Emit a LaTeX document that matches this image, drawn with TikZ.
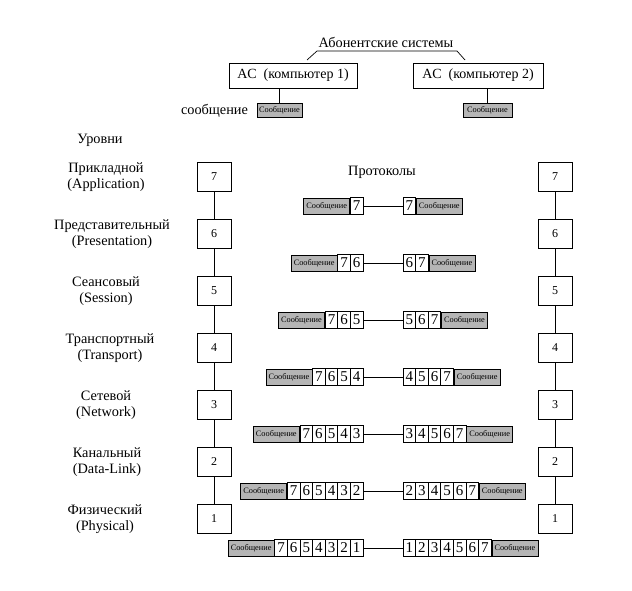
\documentclass[tikz,border=0pt]{standalone}
\usepackage{fontspec}
\setmainfont{Liberation Serif}
\usetikzlibrary{positioning}

\begin{document}
\begin{tikzpicture}[x=1pt,y=1pt,node distance=57pt,on grid,line width=0.7pt,
  txt/.style={font=\fontsize{14.3}{16}\selectfont,align=center},
  lvl/.style={draw,fill=white,minimum width=34pt,minimum height=29pt,inner sep=0pt,font=\fontsize{12}{14}\selectfont},
  acbox/.style={draw,minimum height=25pt,inner sep=0pt,font=\fontsize{14}{16}\selectfont},
  msg/.style={draw,fill=gray!58,minimum width=46pt,minimum height=16pt,inner sep=0pt,font=\fontsize{8.3}{9}\selectfont},
  cell/.style={draw,fill=white,minimum width=12.6pt,minimum height=17pt,inner sep=0pt,font=\fontsize{15}{17}\selectfont}]
\useasboundingbox (0,0) rectangle (632,-591);
% abonent systems
\node[txt] (abon) at (386,-42) {Абонентские системы};
\node[acbox,minimum width=128pt] (ac1) at (293,-75.5) {AC\ \ (компьютер 1)};
\node[acbox,minimum width=130pt] (ac2) at (478,-75.5) {AC\ \ (компьютер 2)};
\coordinate (brL) at (307,-60);
\coordinate (brR) at (465,-60);
\draw (brL) -- ++(10,9) -- (457,-51) -- (brR);
\node[msg,minimum width=45pt,minimum height=14pt] (m1) at (279.5,-110.5) {Сообщение};
\node[msg,minimum width=49pt,minimum height=14pt] (m2) at (487.5,-110.5) {Сообщение};
\draw (m1) -- (m1 |- ac1.south);
\draw (m2) -- (m2 |- ac2.south);
\node[txt,anchor=east] (soob) at ([xshift=-5pt]m1.west) {сообщение};
% levels
\node[txt] (urov) at (100,-140) {Уровни};
\node[txt] (prot) at (382,-172) {Протоколы};
\node[lvl] (a7) at (214,-177) {7};
\node[lvl] (b7) at (555,-177) {7};
\foreach \i [remember=\i as \j (initially 7)] in {6,...,1} {
  \node[lvl,below=of a\j] (a\i) {\i};
  \node[lvl,below=of b\j] (b\i) {\i};
  \draw (a\j) -- (a\i);
  \draw (b\j) -- (b\i);
}
\node[txt,left=108pt of a7] (n7) {Прикладной\\(Application)};
\node[txt,left=102pt of a6] (n6) {Представительный\\(Presentation)};
\node[txt,left=108pt of a5] (n5) {Сеансовый\\(Session)};
\node[txt,left=104pt of a4] (n4) {Транспортный\\(Transport)};
\node[txt,left=108pt of a3] (n3) {Сетевой\\(Network)};
\node[txt,left=107pt of a2] (n2) {Канальный\\(Data-Link)};
\node[txt,left=109pt of a1] (n1) {Физический\\(Physical)};
% protocol rows
\foreach \k in {7,...,1} {
  \pgfmathsetmacro{\yy}{-206-(7-\k)*57}
  \foreach \j in {\k,...,7} {
    \node[cell] (L\k-\j) at ({363-(\j-\k+0.5)*12.6},\yy) {\j};
    \node[cell] (R\k-\j) at ({403+(\j-\k+0.5)*12.6},\yy) {\j};
  }
  \node[msg,anchor=east] (mL\k) at (L\k-7.west) {Сообщение};
  \node[msg,anchor=west] (mR\k) at (R\k-7.east) {Сообщение};
  \draw (L\k-\k) -- (R\k-\k);
}
\end{tikzpicture}
\end{document}
